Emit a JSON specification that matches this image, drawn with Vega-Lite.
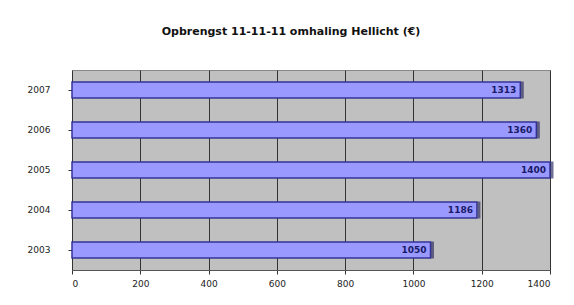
{
  "$schema": "https://vega.github.io/schema/vega-lite/v6.json",
  "autosize": {"type": "none"},
  "width": 478,
  "height": 200,
  "padding": {"left": 72, "top": 70, "right": 24, "bottom": 35},
  "background": "white",
  "title": {
    "text": "Opbrengst 11-11-11 omhaling Hellicht (€)",
    "font": "DejaVu Sans",
    "fontSize": 11,
    "fontWeight": "bold",
    "color": "#111111",
    "offset": 33,
    "dx": -20
  },
  "data": {
    "values": [
      {"jaar": "2003", "bedrag": 1050},
      {"jaar": "2004", "bedrag": 1186},
      {"jaar": "2005", "bedrag": 1400},
      {"jaar": "2006", "bedrag": 1360},
      {"jaar": "2007", "bedrag": 1313}
    ]
  },
  "encoding": {
    "y": {
      "field": "jaar",
      "type": "nominal",
      "sort": "descending",
      "scale": {"paddingInner": 0.6, "paddingOuter": 0.3},
      "axis": {
        "title": null,
        "domain": false,
        "ticks": true,
        "tickColor": "#333333",
        "tickSize": 4,
        "labelPadding": 18,
        "labelFont": "DejaVu Sans",
        "labelFontSize": 9,
        "labelColor": "#222222"
      }
    },
    "x": {
      "field": "bedrag",
      "type": "quantitative",
      "scale": {"domain": [0, 1400], "nice": false},
      "axis": {
        "title": null,
        "format": "d",
        "values": [0, 200, 400, 600, 800, 1000, 1200, 1400],
        "grid": true,
        "gridColor": "#333333",
        "gridWidth": 1,
        "domain": true,
        "domainColor": "#555555",
        "tickColor": "#333333",
        "tickSize": 4,
        "labelPadding": 5,
        "labelFont": "DejaVu Sans",
        "labelFontSize": 9,
        "labelColor": "#222222"
      }
    }
  },
  "layer": [
    {
      "mark": {"type": "bar", "color": "#9999ff", "stroke": "#333399", "strokeWidth": 1.5}
    },
    {
      "mark": {"type": "tick", "orient": "vertical", "color": "#333366", "thickness": 3, "size": 17, "xOffset": 2}
    },
    {
      "mark": {"type": "text", "align": "right", "dx": -4, "font": "DejaVu Sans", "fontSize": 9, "fontWeight": "bold", "color": "#1a1a66"},
      "encoding": {"text": {"field": "bedrag", "type": "quantitative", "format": "d"}}
    }
  ],
  "config": {
    "view": {"fill": "#c0c0c0", "stroke": "#888888", "strokeWidth": 1}
  }
}
